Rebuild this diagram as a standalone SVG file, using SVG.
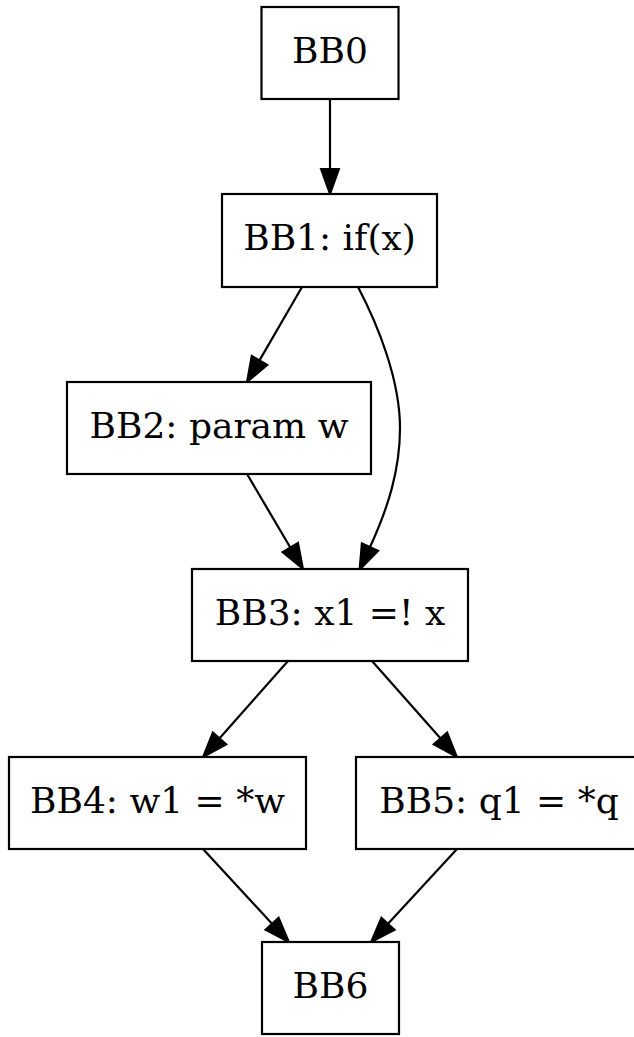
<svg xmlns="http://www.w3.org/2000/svg" width="634" height="1037" viewBox="0 0 634 1037">
<style>
.n rect{fill:#fff;stroke:#000;stroke-width:2.2}
.n text{font-family:"DejaVu Serif",serif;font-size:36px;text-anchor:middle;fill:#000}
.e path{fill:none;stroke:#000;stroke-width:2.2;marker-end:url(#ah)}
</style>
<defs>
<marker id="ah" markerUnits="userSpaceOnUse" markerWidth="30" markerHeight="24" refX="0" refY="10" orient="auto" viewBox="0 0 30 20" overflow="visible">
<path d="M0,1 L25,10 L0,19 Z" fill="#000" stroke="#000" stroke-width="2"/>
</marker>
</defs>
<rect width="634" height="1037" fill="#fff"/>
<g id="edges" class="e">
<path d="M330,99 L330,169"/>
<path d="M302,287 L259.5,360.4"/>
<path d="M358,287 C378,325 400,380 400,428 C400,470 388,508 370,547"/>
<path d="M247,474 L290.3,547.5"/>
<path d="M288,661 L219.6,738.3"/>
<path d="M372,661 L440.4,738.3"/>
<path d="M203,849 L272,923.7"/>
<path d="M457,849 L388,923.7"/>
</g>
<g id="BB0" class="n"><rect x="261.5" y="7" width="137" height="92"/><text x="330" y="63">BB0</text></g>
<g id="BB1" class="n"><rect x="222" y="194" width="215" height="93"/><text x="329.5" y="250">BB1: if(x)</text></g>
<g id="BB2" class="n"><rect x="67" y="382" width="304" height="92"/><text x="219" y="438">BB2: param w</text></g>
<g id="BB3" class="n"><rect x="192" y="569" width="276" height="92"/><text x="330" y="625">BB3: x1 =! x</text></g>
<g id="BB4" class="n"><rect x="9" y="757" width="297" height="92"/><text x="157.5" y="813">BB4: w1 = *w</text></g>
<g id="BB5" class="n"><rect x="356" y="757" width="286" height="92"/><text x="499" y="813">BB5: q1 = *q</text></g>
<g id="BB6" class="n"><rect x="262" y="942" width="137" height="92"/><text x="330.5" y="998">BB6</text></g>
</svg>
